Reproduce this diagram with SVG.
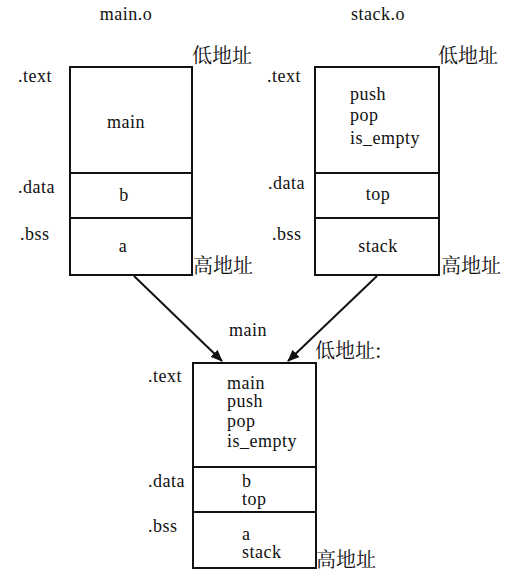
<svg xmlns="http://www.w3.org/2000/svg" width="509" height="579" viewBox="0 0 509 579">
<style>
.t{font-family:"Liberation Serif","Times New Roman",serif;font-size:18px;letter-spacing:0.5px;fill:#111}
.c{font-family:"Noto Serif CJK SC","Noto Sans CJK SC",sans-serif;font-size:20px;fill:#111}
.m{text-anchor:middle}
.box{fill:#fff;stroke:#111;stroke-width:2}
.ln{stroke:#111;stroke-width:2;fill:none}
</style>
<defs>
<marker id="ah" viewBox="0 0 12 10" refX="11" refY="5" markerWidth="12" markerHeight="10" markerUnits="userSpaceOnUse" orient="auto">
<path d="M0,0 L12,5 L0,10 Z" fill="#111"/>
</marker>
</defs>
<rect width="509" height="579" fill="#fff"/>

<g id="main_o">
<text class="t m" x="126" y="20">main.o</text>
<rect class="box" x="70" y="67" width="122" height="208"/>
<line class="ln" x1="70" y1="173" x2="192" y2="173"/>
<line class="ln" x1="70" y1="218" x2="192" y2="218"/>
<text class="t" x="18" y="82">.text</text>
<text class="t" x="18" y="193">.data</text>
<text class="t" x="20" y="240">.bss</text>
<text class="t m" x="126" y="128">main</text>
<text class="t m" x="124" y="201">b</text>
<text class="t m" x="123" y="252">a</text>
<text class="c" x="192" y="63">低地址</text>
<text class="c" x="193" y="273">高地址</text>
</g>

<g id="stack_o">
<text class="t m" x="378" y="20">stack.o</text>
<rect class="box" x="315" y="67" width="124" height="208"/>
<line class="ln" x1="315" y1="173" x2="439" y2="173"/>
<line class="ln" x1="315" y1="218" x2="439" y2="218"/>
<text class="t" x="267" y="82">.text</text>
<text class="t" x="268" y="189">.data</text>
<text class="t" x="272" y="240">.bss</text>
<text class="t" x="350" y="100">push</text>
<text class="t" x="350" y="121">pop</text>
<text class="t" x="350" y="144">is_empty</text>
<text class="t m" x="378" y="200">top</text>
<text class="t m" x="378" y="252">stack</text>
<text class="c" x="438" y="63">低地址</text>
<text class="c" x="441" y="273">高地址</text>
</g>

<g id="main">
<text class="t m" x="248" y="336">main</text>
<rect class="box" x="193" y="363" width="123" height="205"/>
<line class="ln" x1="193" y1="467" x2="316" y2="467"/>
<line class="ln" x1="193" y1="512" x2="316" y2="512"/>
<text class="t" x="148" y="382">.text</text>
<text class="t" x="148" y="487">.data</text>
<text class="t" x="148" y="532">.bss</text>
<text class="t" x="227" y="389">main</text>
<text class="t" x="227" y="407">push</text>
<text class="t" x="227" y="427">pop</text>
<text class="t" x="227" y="447">is_empty</text>
<text class="t" x="242" y="487">b</text>
<text class="t" x="242" y="505">top</text>
<text class="t" x="242" y="540">a</text>
<text class="t" x="242" y="558">stack</text>
<text class="c" x="315" y="358">低地址:</text>
<text class="c" x="316" y="567">高地址</text>
</g>

<g id="connectors">
<line class="ln" x1="134" y1="276" x2="222" y2="361" marker-end="url(#ah)"/>
<line class="ln" x1="377" y1="276" x2="288" y2="361" marker-end="url(#ah)"/>
</g>
</svg>
